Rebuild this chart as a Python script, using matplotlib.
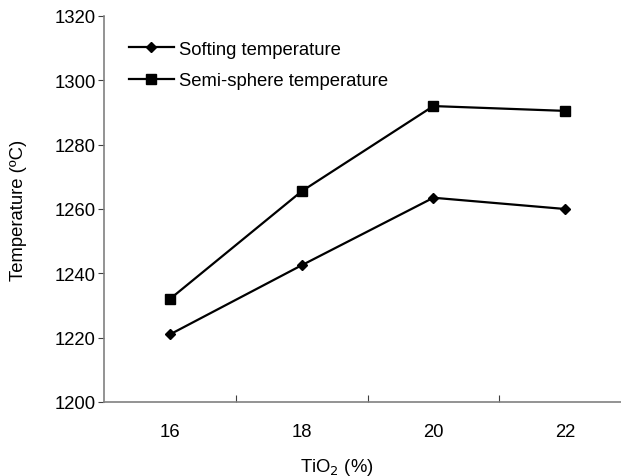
import matplotlib
matplotlib.use("Agg")
import matplotlib.pyplot as plt

plt.rcParams['font.family'] = ['Liberation Sans', 'DejaVu Sans']

categories = ["16", "18", "20", "22"]
softing = [1221, 1242.5, 1263.5, 1260]
semi_sphere = [1232, 1265.5, 1292, 1290.5]
y_ticks = [1200, 1220, 1240, 1260, 1280, 1300, 1320]

FS = 13.3

fig = plt.figure(figsize=(6.21, 4.77), dpi=100)
ax = fig.add_axes([104/621, 1-403/477, 527/621, 386/477])

pos = list(range(len(categories)))
ax.plot(pos, softing, color='black', lw=1.6, marker='D', ms=5.5,
        label='Softing temperature')
ax.plot(pos, semi_sphere, color='black', lw=1.6, marker='s', ms=7,
        label='Semi-sphere temperature')

ax.set_xlim(-0.5, 3.5)
ax.set_ylim(1200, 1320)
ax.set_yticks(y_ticks)
ax.set_yticklabels([str(v) for v in y_ticks])
ax.set_xticks([0.5, 1.5, 2.5])
ax.set_xticklabels([])
ax.set_xticks(pos, minor=True)
ax.set_xticklabels(categories, minor=True)

for s in ['top', 'right']:
    ax.spines[s].set_visible(False)
for s in ['left', 'bottom']:
    ax.spines[s].set_color('#808080')
    ax.spines[s].set_linewidth(1.2)

ax.tick_params(axis='x', which='major', direction='in', length=5, color='#404040')
ax.tick_params(axis='x', which='minor', length=0, pad=15, labelsize=FS)
ax.tick_params(axis='y', direction='out', length=4, pad=2, color='#404040', labelsize=FS)

ax.set_xlabel('TiO$_2$ (%)', fontsize=FS)
ax.xaxis.set_label_coords(0.442, -0.166)
ax.xaxis.label.set_va('center')
ax.set_ylabel('Temperature (ºC)', fontsize=FS)
ax.yaxis.set_label_coords(-0.163, 0.5)
ax.yaxis.label.set_va('center')

leg = ax.legend(loc='upper left', bbox_to_anchor=(0.034, 0.955), frameon=False,
                fontsize=FS, handlelength=2.4, handletextpad=0.3,
                labelspacing=0.78, borderaxespad=0)

fig.savefig('out.png', dpi=100)
